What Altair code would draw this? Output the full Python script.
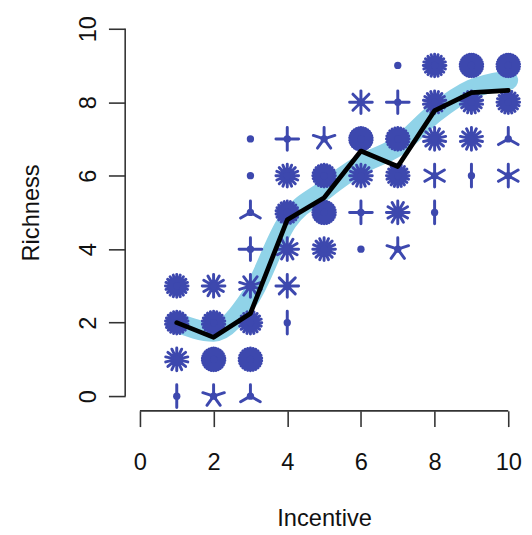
import math
import altair as alt
import pandas as pd

# ---- data ----
# sunflower glyphs: incentive (x), richness (y), number of petals (count)
glyph_x = [1, 1, 1, 1,
           2, 2, 2, 2,
           3, 3, 3, 3, 3, 3, 3, 3,
           4, 4, 4, 4, 4, 4,
           5, 5, 5, 5,
           6, 6, 6, 6, 6,
           7, 7, 7, 7, 7, 7,
           8, 8, 8, 8, 8,
           9, 9, 9, 9,
           10, 10, 10, 10]
glyph_y = [0, 1, 2, 3,
           0, 1, 2, 3,
           0, 1, 2, 3, 4, 5, 6, 7,
           2, 3, 4, 5, 6, 7,
           4, 5, 6, 7,
           4, 5, 6, 7, 8,
           4, 5, 6, 7, 8, 9,
           5, 6, 7, 8, 9,
           6, 7, 8, 9,
           6, 7, 8, 9]
glyph_n = [2, 14, 22, 20,
           5, 30, 22, 12,
           3, 26, 20, 10, 4, 3, 1, 1,
           2, 8, 12, 22, 16, 4,
           16, 28, 24, 5,
           1, 4, 16, 30, 8,
           5, 12, 20, 24, 4, 1,
           2, 6, 14, 18, 20,
           2, 14, 18, 30,
           6, 3, 20, 30]

# mean richness per incentive (black line) and smooth trend (light blue band)
line_x = [1, 2, 3, 4, 5, 6, 7, 8, 9, 10]
mean_y = [2.0, 1.6, 2.25, 4.8, 5.4, 6.67, 6.25, 7.77, 8.26, 8.32]
band_y = [2.0, 1.75, 2.7, 4.75, 5.6, 6.3, 6.8, 7.7, 8.35, 8.6]

x_ticks = [0, 2, 4, 6, 8, 10]
y_ticks = [0, 2, 4, 6, 8, 10]

# ---- styling ----
BLUE = "#3D48AE"
BAND = "#90D3E8"
FONT = "Liberation Sans"
W, H = 404, 403


def petal_path(n):
    parts = []
    for k in range(n):
        a = math.pi / 2 + 2 * math.pi * k / n
        parts.append(f"M0,0L{math.cos(a):.4f},{-math.sin(a):.4f}")
    return "".join(parts)


glyphs = pd.DataFrame({"x": glyph_x, "y": glyph_y, "n": glyph_n})
glyphs["ns"] = glyphs["n"].astype(str)
multi = sorted(set(n for n in glyph_n if n >= 2))
shape_scale = alt.Scale(domain=[str(n) for n in multi],
                        range=[petal_path(n) for n in multi])

lines = pd.DataFrame({"x": line_x, "mean": mean_y, "band": band_y})

xs = alt.Scale(domain=[-0.4, 10.4], nice=False, zero=False)
ys = alt.Scale(domain=[-0.4, 10.4], nice=False, zero=False)

x_axis = alt.Axis(values=x_ticks, format="d", grid=False, domain=False,
                  tickSize=16, tickWidth=1.6, tickColor="#333",
                  labelFont=FONT, labelFontSize=24, labelColor="#111",
                  labelPadding=25, labelBaseline="top", labelAlign="center",
                  labelFlush=False, labelOverlap=False,
                  title="Incentive", titleFont=FONT, titleFontSize=24,
                  titleFontWeight="normal", titleColor="#111",
                  titleX=W / 2, titleY=116, titleAlign="center",
                  titleBaseline="alphabetic")
y_axis = alt.Axis(values=y_ticks, format="d", grid=False, domain=False,
                  tickSize=17, tickWidth=1.6, tickColor="#333",
                  labelFont=FONT, labelFontSize=24, labelColor="#111",
                  labelPadding=13, labelAngle=270, labelBaseline="alphabetic",
                  labelAlign="center", labelFlush=False, labelOverlap=False,
                  title="Richness", titleFont=FONT, titleFontSize=24,
                  titleFontWeight="normal", titleColor="#111",
                  titleAngle=270, titleX=-88, titleY=H / 2,
                  titleAlign="center", titleBaseline="alphabetic")

X = lambda f: alt.X(f, scale=xs, axis=x_axis)
Y = lambda f: alt.Y(f, scale=ys, axis=y_axis)

band = alt.Chart(lines).mark_line(
    color=BAND, strokeWidth=20, interpolate="monotone",
    strokeCap="round", strokeJoin="round"
).encode(x=X("x:Q"), y=Y("band:Q"))

petals = alt.Chart(glyphs).transform_filter("datum.n >= 2").mark_point(
    filled=False, size=529, strokeWidth=3, strokeCap="round",
    opacity=1, color=BLUE
).encode(x=X("x:Q"), y=Y("y:Q"),
         shape=alt.Shape("ns:N", scale=shape_scale, legend=None))

dots = alt.Chart(glyphs).mark_circle(size=55, opacity=1, color=BLUE).encode(
    x=X("x:Q"), y=Y("y:Q"))

mean = alt.Chart(lines).mark_line(
    color="#000", strokeWidth=4.8, strokeJoin="round", strokeCap="round"
).encode(x=X("x:Q"), y=Y("mean:Q"))

axis_df = pd.DataFrame({"a": [0]})
x_line = alt.Chart(axis_df).mark_rule(color="#333", strokeWidth=1.6).encode(
    x=alt.datum(x_ticks[0], scale=xs), x2=alt.datum(x_ticks[-1]),
    y=alt.value(H))
y_line = alt.Chart(axis_df).mark_rule(color="#333", strokeWidth=1.6).encode(
    y=alt.datum(y_ticks[0], scale=ys), y2=alt.datum(y_ticks[-1]),
    x=alt.value(0))

chart = alt.layer(band, petals, dots, mean, x_line, y_line).properties(
    width=W, height=H,
    autosize=alt.AutoSizeParams(type="none"),
    padding={"left": 119, "top": 2, "right": 1, "bottom": 122},
    background="white",
).configure_view(stroke=None)

chart.save("out.html", embed_options={"renderer": "svg", "actions": False})
